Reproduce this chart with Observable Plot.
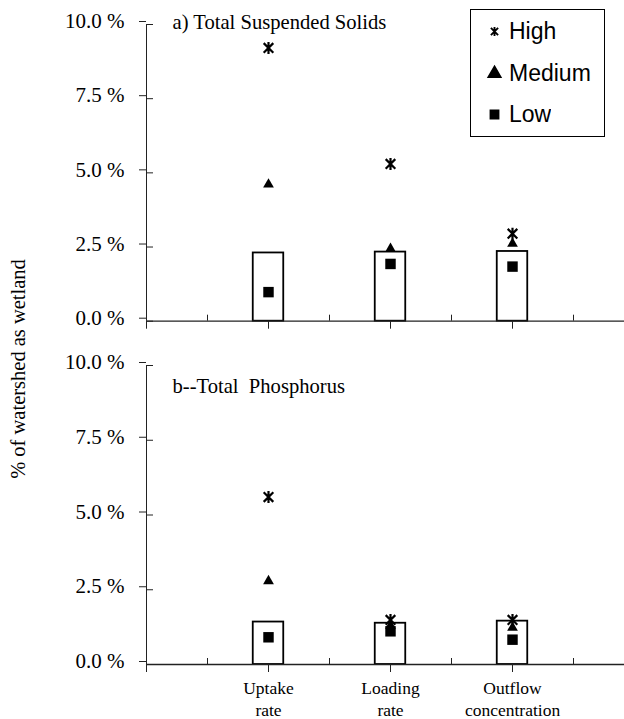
<!DOCTYPE html>
<html><head><meta charset="utf-8">
<script src="https://cdn.jsdelivr.net/npm/d3@7"></script>
<script src="https://cdn.jsdelivr.net/npm/@observablehq/plot@0.6"></script>
<style>
body{margin:0;background:#fff;}
#wrap{position:relative;width:624px;height:719px;overflow:hidden;background:#fff;}
#wrap svg text{white-space:pre;}
#ylab{position:absolute;left:18px;top:369px;transform:translate(-50%,-50%) rotate(-90deg);white-space:pre;font-size:20.5px;font-family:Liberation Serif, serif;color:#000;}
#legbox{position:absolute;left:470px;top:9px;width:135px;height:128px;border:1.5px solid #000;box-sizing:border-box;background:#fff;}
#legbox .lg-swatches{font-size:23px;font-family:Liberation Sans, Arial, sans-serif;margin:0;padding:1px 0 0 16px;color:#000;}
#legbox .lg-swatch{height:41.5px;padding:0;display:flex;align-items:center;}
#legbox .lg-swatch > svg{margin-right:7px;}
</style></head>
<body><div id="wrap"></div>
<script>
const categories = ["Uptake rate", "Loading rate", "Outflow concentration"];
const categoryLines = ["Uptake\nrate", "Loading\nrate", "Outflow\nconcentration"];
const levels = ["High", "Medium", "Low"];
const yTicks = [0, 2.5, 5, 7.5, 10];
const yLabel = "% of watershed as wetland";

const tssTitle = "a) Total Suspended Solids";
const tssBox = [2.30, 2.33, 2.35];
const tssHigh = [9.21, 5.30, 2.95];
const tssMedium = [4.61, 2.44, 2.61];
const tssLow = [0.98, 1.93, 1.84];

const tpTitle = "b--Total  Phosphorus";
const tpBox = [1.42, 1.38, 1.45];
const tpHigh = [5.60, 1.49, 1.49];
const tpMedium = [2.79, 1.30, 1.23];
const tpLow = [0.91, 1.11, 0.83];

// star marker: an x with a vertical bar
const starSymbol = {
  draw(ctx, size) {
    const r = Math.sqrt(size / Math.PI);
    const a = r * 0.8;
    ctx.moveTo(0, -r); ctx.lineTo(0, r);
    ctx.moveTo(-a, -a); ctx.lineTo(a, a);
    ctx.moveTo(a, -a); ctx.lineTo(-a, a);
  }
};
const levelSymbols = [starSymbol, "triangle", "square"];

const pos = categories.map((_, i) => 2 * (i + 1));
const minor = [...pos.map(p => p - 1), pos[pos.length - 1] + 1];
const major = [0, ...pos];
const serif = "Liberation Serif, serif";

function panel(o) {
  const bars = categories.map((c, i) => ({pos: pos[i], value: o.box[i]}));
  const pts = [];
  [o.high, o.medium, o.low].forEach((arr, j) =>
    categories.forEach((c, i) => pts.push({pos: pos[i], level: levels[j], value: arr[i]})));
  const xMarks = o.showLabels
    ? [
        Plot.axisX({ticks: [0], tickSize: 8, fill: "none", stroke: "#222"}),
        Plot.axisX({ticks: pos, tickSize: 8, tickPadding: 6, stroke: "#222", fill: "#000",
          tickFormat: d => categoryLines[pos.indexOf(d)], fontSize: 17.5, fontFamily: serif, lineHeight: 1.25, label: null})
      ]
    : [Plot.axisX({ticks: major, tickSize: 8, fill: "none", stroke: "#222"})];
  const svg = Plot.plot({
    width: 624, height: o.height,
    marginLeft: 146, marginRight: 0, marginTop: o.marginTop, marginBottom: o.marginBottom,
    style: {color: "#000", background: "#fff", overflow: "visible"},
    x: {domain: [0, 7.836]},
    y: {domain: [0, 10]},
    symbol: {domain: levels, range: levelSymbols},
    marks: [
      Plot.rectY(bars, {x1: d => d.pos - 0.25, x2: d => d.pos + 0.25, y1: 0, y2: "value",
        fill: "#fff", stroke: "#000", strokeWidth: 1.8}),
      Plot.ruleY([0], {stroke: "#222", strokeWidth: 1.3}),
      Plot.ruleX([0], {stroke: "#222"}),
      Plot.axisY({ticks: yTicks, tickSize: 7, tickPadding: 15, tickFormat: d => d.toFixed(1) + " %",
        fontSize: 21, fontFamily: serif, dy: -3, label: null, stroke: "#222", fill: "#000"}),
      Plot.axisY({ticks: yTicks, tickSize: -7, fill: "none", stroke: "#222"}),
      Plot.axisX({ticks: minor, tickSize: -6, fill: "none", stroke: "#222"}),
      ...xMarks,
      Plot.dot(pts.filter(d => d.level === "Low"), {x: "pos", y: "value", symbol: "level", r: 5.9, fill: "#000", stroke: "none"}),
      Plot.dot(pts.filter(d => d.level === "Medium"), {x: "pos", y: "value", symbol: "level", r: 4, fill: "#000", stroke: "none"}),
      Plot.dot(pts.filter(d => d.level === "High"), {x: "pos", y: "value", symbol: "level", r: 6, fill: "none", stroke: "#000", strokeWidth: 2.2}),
      Plot.text([o.title], {text: d => d, frameAnchor: "top-left", dx: 26, dy: o.titleDy,
        textAnchor: "start", lineAnchor: "middle", fontSize: 20.6, fontFamily: serif, fill: "#000"})
    ]
  });
  svg.setAttribute("font-family", serif);
  svg.style.fontFamily = serif;
  svg.style.position = "absolute";
  svg.style.left = "0px";
  return svg;
}

const wrap = document.getElementById("wrap");
const top1 = panel({title: tssTitle, box: tssBox, high: tssHigh, medium: tssMedium, low: tssLow,
  height: 340, marginTop: 24, marginBottom: 19.3, showLabels: false, titleDy: -2});
top1.style.top = "0px";
wrap.appendChild(top1);

const bot = panel({title: tpTitle, box: tpBox, high: tpHigh, medium: tpMedium, low: tpLow,
  height: 379, marginTop: 25, marginBottom: 55, showLabels: true, titleDy: 20.5});
bot.style.top = "340px";
wrap.appendChild(bot);

const yl = document.createElement("div");
yl.id = "ylab"; yl.textContent = yLabel;
yl.style.fontFamily = serif;
wrap.appendChild(yl);

const box = document.createElement("div");
box.id = "legbox";
const leg = top1.legend("symbol", {className: "lg", columns: 1, fill: "#000", stroke: "#000", strokeWidth: 2, r: 4.8, swatchSize: 15});
box.appendChild(leg);
wrap.appendChild(box);
</script>
</body></html>
